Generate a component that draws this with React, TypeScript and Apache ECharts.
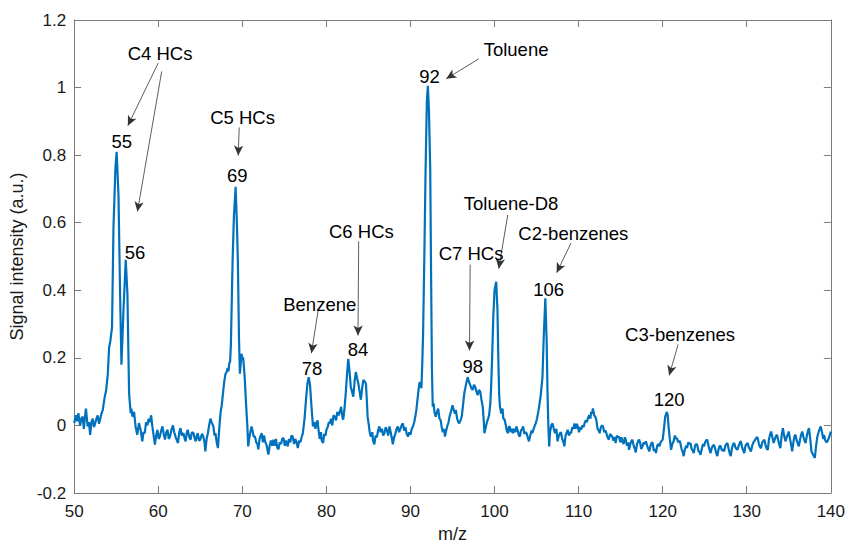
import { useEffect, useRef } from "react";
import * as echarts from "echarts";

// m/z vs signal intensity (a.u.)
const c4Region: [number, number][] = [
  [50.0, 0.007], [50.2, 0.03], [50.35, 0.012], [50.5, 0.036], [50.7, 0.0], [50.85, 0.02], [51.0, 0.026],
  [51.15, -0.01], [51.3, 0.03], [51.4, 0.05], [51.6, -0.003], [51.75, 0.01], [51.9, -0.028], [52.05, 0.01],
  [52.2, 0.02], [52.35, -0.005], [52.5, 0.007], [52.65, 0.02], [52.8, 0.03], [52.95, 0.005], [53.1, 0.02],
  [53.25, 0.035], [53.4, 0.046], [53.6, 0.08], [53.8, 0.104], [54.0, 0.153], [54.15, 0.23], [54.3, 0.25],
  [54.4, 0.27], [54.5, 0.29], [54.67, 0.584], [54.9, 0.76], [55.05, 0.81], [55.27, 0.68], [55.46, 0.39],
  [55.62, 0.18], [55.86, 0.34], [56.13, 0.49], [56.33, 0.39], [56.53, 0.095], [56.72, 0.036], [56.8, 0.05],
  [56.93, 0.026], [57.12, 0.04], [57.3, -0.003], [57.5, -0.028], [57.7, 0.007], [57.9, -0.013], [58.1, -0.047],
  [58.25, -0.02], [58.4, -0.023], [58.55, 0.01], [58.7, 0.0], [58.85, 0.02], [59.0, 0.01], [59.15, 0.03],
  [59.3, -0.003], [59.45, -0.03], [59.6, -0.057], [59.75, -0.03], [59.9, -0.013],
];

const c5Region: [number, number][] = [
  [60.05, -0.04], [60.2, -0.032], [60.35, -0.015], [60.5, -0.003], [60.65, -0.025], [60.8, -0.042],
  [60.95, -0.02], [61.1, -0.013], [61.25, -0.04], [61.4, -0.032], [61.6, -0.01], [61.75, 0.0], [61.9, -0.02],
  [62.1, -0.037], [62.35, -0.052], [62.5, -0.02], [62.65, -0.008], [62.8, -0.03], [63.0, -0.023], [63.15, -0.04],
  [63.25, -0.047], [63.4, -0.02], [63.5, -0.013], [63.7, -0.035], [63.85, -0.042], [64.0, -0.02], [64.2, -0.023],
  [64.35, -0.04], [64.45, -0.047], [64.6, -0.03], [64.7, -0.023], [64.85, -0.045], [65.0, -0.042], [65.2, -0.025],
  [65.35, -0.032], [65.5, -0.05], [65.6, -0.077], [65.75, -0.04], [65.9, -0.023], [66.05, 0.0], [66.2, 0.02],
  [66.35, 0.01], [66.55, -0.003], [66.7, -0.03], [66.8, -0.023], [66.95, -0.05], [67.1, -0.067], [67.25, -0.01],
  [67.4, 0.036], [67.55, 0.06], [67.7, 0.095], [67.85, 0.13], [68.0, 0.153], [68.13, 0.158], [68.25, 0.17],
  [68.35, 0.16], [68.44, 0.183], [68.55, 0.19], [68.64, 0.24], [68.84, 0.486], [69.0, 0.62], [69.2, 0.706],
  [69.35, 0.6], [69.47, 0.486], [69.6, 0.26], [69.71, 0.153], [69.8, 0.18], [69.9, 0.212], [70.0, 0.2],
  [70.1, 0.2], [70.2, 0.17], [70.3, 0.134], [70.45, 0.06], [70.6, -0.003], [70.7, -0.062], [70.8, -0.042],
  [70.95, -0.02], [71.1, -0.003], [71.25, -0.02], [71.35, -0.033], [71.5, -0.033], [71.65, -0.05],
  [71.8, -0.055], [71.9, -0.071],
];

const c6Region: [number, number][] = [
  [72.05, -0.04], [72.3, -0.023], [72.45, -0.05], [72.6, -0.03], [72.7, -0.047], [72.9, -0.06], [73.1, -0.086],
  [73.25, -0.06], [73.4, -0.045], [73.55, -0.06], [73.7, -0.042], [73.85, -0.06], [74.0, -0.04], [74.15, -0.065],
  [74.3, -0.071], [74.45, -0.05], [74.6, -0.055], [74.75, -0.04], [74.9, -0.037], [75.05, -0.06], [75.2, -0.045],
  [75.4, -0.062], [75.55, -0.04], [75.7, -0.05], [75.85, -0.03], [76.0, -0.033], [76.15, -0.055], [76.3, -0.04],
  [76.45, -0.05], [76.6, -0.067], [76.75, -0.045], [76.9, -0.05], [77.05, -0.035], [77.2, -0.023], [77.4, 0.02],
  [77.6, 0.085], [77.75, 0.125], [77.9, 0.143], [78.05, 0.12], [78.2, 0.065], [78.4, -0.003], [78.55, 0.01],
  [78.7, -0.01], [78.8, 0.006], [78.95, 0.015], [79.05, -0.01], [79.2, -0.04], [79.35, -0.02], [79.45, -0.045],
  [79.6, -0.052], [79.75, -0.025], [79.9, -0.03], [80.0, -0.013], [80.15, -0.005], [80.3, 0.01], [80.4, 0.006],
  [80.55, 0.02], [80.7, 0.0], [80.85, 0.03], [81.0, 0.026], [81.15, 0.015], [81.3, 0.04], [81.45, 0.03],
  [81.6, 0.04], [81.75, 0.055], [81.9, 0.025], [82.0, 0.017], [82.15, 0.05], [82.3, 0.095], [82.45, 0.15],
  [82.6, 0.197], [82.75, 0.16], [82.9, 0.114], [83.05, 0.1], [83.2, 0.085], [83.35, 0.13], [83.5, 0.158],
  [83.65, 0.14], [83.8, 0.124], [83.95, 0.1], [84.1, 0.076], [84.25, 0.11], [84.4, 0.135], [84.55, 0.13],
  [84.7, 0.124], [84.8, 0.08], [84.9, 0.026], [85.05, 0.0], [85.15, -0.02], [85.3, -0.033], [85.45, -0.02],
  [85.55, -0.045], [85.7, -0.056], [85.85, -0.03], [86.0, -0.035], [86.15, -0.015], [86.3, -0.003],
  [86.45, -0.02], [86.6, -0.01], [86.75, -0.03], [86.9, -0.023], [87.05, -0.005], [87.2, -0.015], [87.35, -0.03],
  [87.5, -0.003], [87.65, -0.02], [87.8, -0.04], [87.9, -0.056], [88.05, -0.035], [88.2, -0.025], [88.35, -0.01],
  [88.5, -0.003], [88.65, -0.02], [88.8, -0.01], [88.95, 0.0], [89.1, 0.006], [89.25, -0.015], [89.4, -0.005],
  [89.55, -0.025], [89.7, -0.033], [89.85, -0.02],
];

const tolueneRegion: [number, number][] = [
  [90.0, -0.028], [90.15, -0.01], [90.3, -0.003], [90.45, 0.01], [90.6, 0.03], [90.7, 0.046], [90.85, 0.08],
  [91.0, 0.114], [91.1, 0.129], [91.2, 0.12], [91.3, 0.11], [91.4, 0.18], [91.5, 0.27], [91.65, 0.5],
  [91.8, 0.76], [91.95, 0.96], [92.07, 1.005], [92.2, 0.93], [92.35, 0.76], [92.45, 0.45], [92.55, 0.17],
  [92.65, 0.055], [92.75, 0.065], [92.85, 0.04], [93.0, 0.026], [93.15, 0.04], [93.3, 0.05], [93.45, 0.02],
  [93.6, 0.015], [93.7, -0.003], [93.85, -0.02], [94.0, -0.01], [94.1, -0.033], [94.25, -0.015], [94.4, 0.0],
  [94.5, 0.006], [94.65, 0.026], [94.8, 0.04], [95.0, 0.06], [95.15, 0.045], [95.3, 0.035], [95.4, 0.046],
  [95.55, 0.02], [95.7, 0.01], [95.8, 0.006], [95.95, 0.015], [96.1, 0.026], [96.25, 0.06], [96.4, 0.095],
  [96.6, 0.12], [96.8, 0.143], [96.95, 0.13], [97.1, 0.12], [97.25, 0.11], [97.4, 0.105], [97.55, 0.12],
  [97.7, 0.114], [97.85, 0.1], [98.0, 0.09], [98.15, 0.105], [98.3, 0.1], [98.45, 0.075], [98.6, 0.055],
  [98.7, 0.02], [98.8, -0.023], [98.95, -0.005], [99.1, 0.01], [99.2, 0.017], [99.35, 0.03], [99.5, 0.065],
  [99.6, 0.12], [99.7, 0.19], [99.85, 0.32], [100.0, 0.4], [100.2, 0.425], [100.35, 0.34], [100.45, 0.2],
  [100.55, 0.09], [100.65, 0.055], [100.8, 0.035], [100.95, 0.05], [101.05, 0.02], [101.2, 0.017],
  [101.35, 0.0], [101.45, -0.015], [101.6, -0.023], [101.7, -0.005], [101.8, -0.003], [101.95, -0.02],
  [102.1, -0.01], [102.2, -0.023], [102.35, -0.01], [102.5, -0.02], [102.6, -0.003], [102.75, -0.015],
  [102.9, -0.03], [103.0, -0.033], [103.15, -0.015], [103.3, -0.01], [103.4, -0.003], [103.55, -0.025],
  [103.7, -0.02], [103.8, -0.023], [103.95, -0.035],
];

const benzenesRegion: [number, number][] = [
  [104.1, -0.047], [104.25, -0.03], [104.4, -0.015], [104.5, -0.023], [104.65, -0.01], [104.8, 0.0],
  [104.9, 0.006], [105.05, 0.02], [105.2, 0.04], [105.3, 0.055], [105.5, 0.09], [105.7, 0.143], [105.85, 0.26],
  [106.04, 0.376], [106.2, 0.25], [106.3, 0.1], [106.4, 0.0], [106.5, -0.062], [106.6, -0.02], [106.75, 0.0],
  [106.9, 0.006], [107.05, -0.01], [107.2, -0.023], [107.35, -0.01], [107.5, -0.047], [107.65, -0.03],
  [107.8, -0.023], [107.9, -0.02], [108.05, -0.04], [108.2, -0.05], [108.3, -0.062], [108.45, -0.03],
  [108.6, -0.02], [108.7, -0.013], [108.85, -0.03], [109.0, -0.02], [109.1, -0.023], [109.25, -0.005],
  [109.4, -0.01], [109.5, 0.006], [109.65, -0.01], [109.8, 0.005], [109.9, -0.003], [110.05, -0.02],
  [110.2, -0.005], [110.3, -0.013], [110.45, 0.0], [110.6, -0.005], [110.7, 0.006], [110.85, 0.015],
  [111.0, 0.01], [111.1, 0.021], [111.25, 0.03], [111.4, 0.02], [111.5, 0.04], [111.6, 0.035], [111.7, 0.05],
  [111.85, 0.03], [112.0, 0.025], [112.1, 0.017], [112.25, -0.01], [112.4, -0.015], [112.5, -0.023],
  [112.65, -0.005], [112.8, 0.0], [112.9, -0.003], [113.05, -0.02], [113.2, -0.015], [113.3, -0.023],
  [113.45, -0.035], [113.6, -0.042], [113.75, -0.025], [113.9, -0.03], [114.0, -0.033], [114.15, -0.045],
  [114.3, -0.035], [114.4, -0.052], [114.55, -0.03], [114.7, -0.035], [114.8, -0.033], [114.95, -0.05],
  [115.1, -0.035], [115.2, -0.047], [115.35, -0.055], [115.5, -0.035], [115.6, -0.042], [115.75, -0.06],
  [115.9, -0.05], [116.0, -0.072], [116.15, -0.055], [116.3, -0.045], [116.4, -0.042], [116.55, -0.06],
  [116.7, -0.07], [116.8, -0.08], [116.95, -0.055], [117.1, -0.045], [117.2, -0.042], [117.35, -0.055],
  [117.45, -0.07], [117.6, -0.062], [117.75, -0.05], [117.9, -0.055],
];

const tailRegion: [number, number][] = [
  [118.0, -0.047], [118.15, -0.06], [118.3, -0.07], [118.4, -0.077], [118.55, -0.06], [118.7, -0.05],
  [118.8, -0.052], [118.95, -0.075], [119.1, -0.07], [119.2, -0.082], [119.35, -0.06], [119.5, -0.055],
  [119.6, -0.062], [119.75, -0.05], [119.9, -0.045], [120.0, -0.042], [120.15, -0.01], [120.3, 0.026],
  [120.5, 0.04], [120.6, 0.03], [120.7, -0.003], [120.85, -0.04], [121.0, -0.072], [121.15, -0.055],
  [121.3, -0.047], [121.45, -0.03], [121.6, -0.04], [121.7, -0.037], [121.85, -0.05], [122.0, -0.045],
  [122.1, -0.052], [122.25, -0.07], [122.4, -0.08], [122.5, -0.091], [122.65, -0.07], [122.8, -0.06],
  [122.9, -0.067], [123.05, -0.05], [123.2, -0.055], [123.3, -0.052], [123.45, -0.07], [123.6, -0.075],
  [123.7, -0.082], [123.85, -0.06], [124.0, -0.055], [124.1, -0.057], [124.25, -0.075], [124.4, -0.08],
  [124.5, -0.087], [124.65, -0.07], [124.8, -0.055], [124.9, -0.062], [125.05, -0.05], [125.15, -0.045],
  [125.3, -0.042], [125.45, -0.06], [125.6, -0.075], [125.7, -0.082], [125.85, -0.065], [126.0, -0.06],
  [126.1, -0.057], [126.25, -0.07], [126.4, -0.085], [126.5, -0.091], [126.65, -0.07], [126.8, -0.06],
  [126.9, -0.062], [127.05, -0.075], [127.2, -0.07], [127.3, -0.077], [127.45, -0.06], [127.6, -0.055],
  [127.7, -0.052], [127.85, -0.07], [128.0, -0.085], [128.1, -0.091], [128.25, -0.065], [128.4, -0.055],
  [128.5, -0.052], [128.65, -0.065], [128.8, -0.07], [128.9, -0.072], [129.05, -0.06], [129.2, -0.05],
  [129.3, -0.047], [129.45, -0.065], [129.6, -0.075], [129.7, -0.082], [129.85, -0.06], [130.0, -0.055],
  [130.1, -0.052], [130.25, -0.065], [130.4, -0.072], [130.5, -0.077], [130.65, -0.06], [130.8, -0.05],
  [130.9, -0.047], [131.05, -0.04], [131.2, -0.035], [131.3, -0.037], [131.45, -0.055], [131.6, -0.065],
  [131.7, -0.067], [131.85, -0.05], [132.0, -0.045], [132.1, -0.042], [132.25, -0.06], [132.4, -0.07],
  [132.5, -0.072], [132.65, -0.04], [132.8, -0.025], [132.9, -0.018], [133.05, -0.035], [133.2, -0.052],
  [133.35, -0.04], [133.5, -0.03], [133.6, -0.028], [133.75, -0.045], [133.9, -0.06], [134.0, -0.067],
  [134.15, -0.03], [134.3, -0.008], [134.45, -0.03], [134.6, -0.047], [134.75, -0.035], [134.9, -0.025],
  [135.0, -0.018], [135.15, -0.04], [135.3, -0.06], [135.4, -0.077], [135.55, -0.05], [135.7, -0.03],
  [135.8, -0.028], [135.95, -0.045], [136.1, -0.055], [136.2, -0.062], [136.35, -0.04], [136.5, -0.025],
  [136.6, -0.018], [136.75, -0.035], [136.9, -0.047], [137.0, -0.052], [137.15, -0.03], [137.3, -0.015],
  [137.4, -0.008], [137.55, -0.04], [137.7, -0.077], [137.85, -0.085], [138.1, -0.096], [138.25, -0.06],
  [138.4, -0.033], [138.6, -0.015], [138.8, -0.003], [138.95, -0.02], [139.1, -0.04], [139.2, -0.028],
  [139.35, -0.045], [139.5, -0.05], [139.6, -0.047], [139.8, -0.035], [140.0, -0.018],
];

// Annotation texts, anchored in data coordinates [m/z, intensity]
const peakLabels: { text: string; at: [number, number] }[] = [
  { text: "55", at: [55.66, 0.84] },
  { text: "56", at: [57.24, 0.513] },
  { text: "69", at: [69.39, 0.74] },
  { text: "78", at: [78.3, 0.168] },
  { text: "84", at: [83.76, 0.224] },
  { text: "92", at: [92.27, 1.034] },
  { text: "98", at: [97.41, 0.173] },
  { text: "106", at: [106.44, 0.401] },
  { text: "120", at: [120.77, 0.078] },
];

const groupLabels: { text: string; at: [number, number] }[] = [
  { text: "C4 HCs", at: [60.21, 1.1] },
  { text: "C5 HCs", at: [70.03, 0.912] },
  { text: "Benzene", at: [79.21, 0.359] },
  { text: "C6 HCs", at: [84.16, 0.574] },
  { text: "Toluene", at: [102.56, 1.112] },
  { text: "Toluene-D8", at: [101.97, 0.657] },
  { text: "C7 HCs", at: [97.2, 0.51] },
  { text: "C2-benzenes", at: [109.37, 0.569] },
  { text: "C3-benzenes", at: [122.07, 0.269] },
];

// Arrows: [from, to] in data coordinates
const arrows: [[number, number], [number, number]][] = [
  [[60.0, 1.073], [56.38, 0.887]],
  [[60.41, 1.048], [57.52, 0.633]],
  [[69.63, 0.882], [69.51, 0.799]],
  [[79.01, 0.339], [78.22, 0.214]],
  [[83.84, 0.545], [83.76, 0.266]],
  [[98.12, 1.085], [94.25, 1.026]],
  [[101.57, 0.623], [100.5, 0.464]],
  [[97.1, 0.476], [97.02, 0.222]],
  [[109.1, 0.54], [107.39, 0.452]],
  [[121.84, 0.24], [120.77, 0.148]],
];

const xRange = { min: 50, max: 140, interval: 10 };
const yRange = { min: -0.2, max: 1.2, interval: 0.2 };

export default function App() {
  const ref = useRef<HTMLDivElement>(null);

  useEffect(() => {
    if (!ref.current) return;
    const chart = echarts.init(ref.current, undefined, { renderer: "svg" });
    const font = "'Liberation Sans', Arial, Helvetica, sans-serif";
    const axisColor = "#7a7a7a";
    const data = [...c4Region, ...c5Region, ...c6Region, ...tolueneRegion, ...benzenesRegion, ...tailRegion];

    const baseAxis = {
      type: "value" as const,
      splitLine: { show: false },
      axisLine: { show: true, onZero: false, lineStyle: { color: axisColor, width: 1 } },
      axisTick: { show: true, inside: true, length: 7, lineStyle: { color: axisColor, width: 1 } },
    };

    const labelPoints = [...peakLabels, ...groupLabels].map((l) => ({
      name: l.text,
      coord: l.at,
    }));

    chart.setOption({
      animation: false,
      backgroundColor: "#ffffff",
      grid: { left: 74, right: 16, top: 20, bottom: 51, containLabel: false },
      xAxis: [
        {
          ...baseAxis,
          ...xRange,
          position: "bottom",
          name: "m/z",
          nameLocation: "middle",
          nameGap: 32,
          nameTextStyle: { color: "#1a1a1a", fontSize: 18, fontFamily: font },
          axisLabel: { color: "#1a1a1a", fontSize: 17, fontFamily: font, margin: 10 },
        },
        {
          ...baseAxis,
          ...xRange,
          position: "top",
          axisLabel: { show: false },
        },
      ],
      yAxis: [
        {
          ...baseAxis,
          ...yRange,
          position: "left",
          name: "Signal intensity (a.u.)",
          nameLocation: "middle",
          nameGap: 41,
          nameRotate: 90,
          nameTextStyle: { color: "#1a1a1a", fontSize: 18, fontFamily: font },
          axisLabel: { color: "#1a1a1a", fontSize: 17, fontFamily: font, margin: 8 },
        },
        {
          ...baseAxis,
          ...yRange,
          position: "right",
          axisLabel: { show: false },
        },
      ],
      series: [
        {
          type: "line",
          xAxisIndex: 0,
          yAxisIndex: 0,
          data,
          showSymbol: false,
          symbol: "none",
          lineStyle: { color: "#0072BD", width: 2.2 },
          markLine: {
            silent: true,
            symbol: ["none", "arrow"],
            symbolSize: [7, 10],
            label: { show: false },
            lineStyle: { color: "#333333", width: 0.8, type: "solid" },
            data: arrows.map(([from, to]) => [{ coord: from }, { coord: to }]),
          },
          markPoint: {
            silent: true,
            symbol: "circle",
            symbolSize: 1,
            itemStyle: { color: "rgba(0,0,0,0)" },
            label: {
              show: true,
              position: "inside",
              formatter: "{b}",
              color: "#000000",
              fontSize: 18.5,
              fontFamily: font,
              align: "center",
              verticalAlign: "middle",
            },
            data: labelPoints,
          },
        },
      ],
    });

    return () => chart.dispose();
  }, []);

  return (
    <div
      ref={ref}
      style={{ position: "fixed", left: 0, top: 0, width: 848, height: 548, background: "#fff" }}
    />
  );
}
